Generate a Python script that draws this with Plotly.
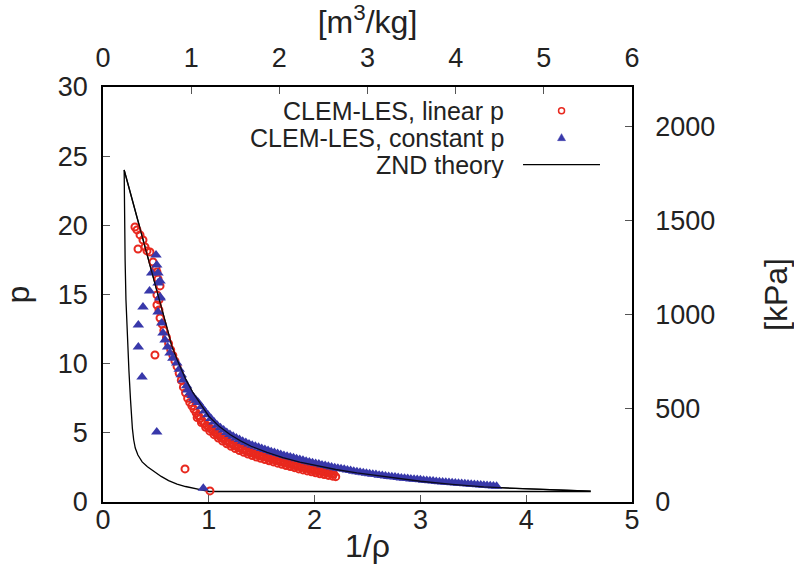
import plotly.graph_objects as go

# ---------------- data ----------------
# ZND theory path: initial-state line, shock branch up to the vN spike, then the expansion
znd_x = [4.61, 1.00, 0.93, 0.85, 0.78, 0.70, 0.62, 0.55, 0.48, 0.42, 0.37, 0.33, 0.305, 0.29,
         0.278, 0.268, 0.26, 0.245, 0.23, 0.217, 0.209, 0.204, 0.20,
         0.36, 0.51, 0.56, 0.60, 0.65, 0.70, 0.78, 0.85, 0.92, 1.00, 1.10, 1.20, 1.30, 1.40,
         1.55, 1.70, 1.86, 2.00, 2.20, 2.40, 2.70, 3.00, 3.30, 3.60, 3.90, 4.20, 4.61]
znd_p = [0.76, 0.76, 0.87, 1.00, 1.12, 1.30, 1.55, 1.85, 2.20, 2.55, 2.90, 3.40, 3.90, 4.50,
         5.30, 6.30, 7.40, 9.50, 12.0, 14.6, 17.5, 20.4, 24.0,
         19.5, 15.3, 13.9, 12.6, 11.3, 10.3, 8.9, 7.9, 7.1, 6.2, 5.45, 4.88, 4.42, 4.03,
         3.58, 3.20, 2.88, 2.64, 2.35, 2.10, 1.78, 1.50, 1.28, 1.10, 0.98, 0.89, 0.79]

# CLEM-LES, linear p (red open circles)
lin_x = [0.302, 0.321, 0.350, 0.378, 0.331, 0.397, 0.416, 0.444, 0.473, 0.501, 0.510, 0.520,
         0.539, 0.510, 0.529, 0.510, 0.529, 0.539, 0.558, 0.575,
         0.491, 0.775, 1.011,
         0.60, 0.62, 0.64, 0.66, 0.68, 0.70, 0.72, 0.74, 0.76, 0.78, 0.80, 0.82, 0.84, 0.86,
         0.88, 0.90, 0.92, 0.94, 0.96, 0.98, 1.00, 1.02, 1.04, 1.06, 1.08, 1.10, 1.12, 1.14,
         1.16, 1.18, 1.20, 1.22, 1.24, 1.26, 1.28, 1.30, 1.32, 1.34, 1.36, 1.38, 1.40, 1.42,
         1.44, 1.46, 1.48, 1.50, 1.52, 1.54, 1.56, 1.58, 1.60, 1.62, 1.64, 1.66, 1.68, 1.70,
         1.72, 1.74, 1.76, 1.78, 1.80, 1.82, 1.84, 1.86, 1.88, 1.90, 1.92, 1.94, 1.96, 1.98,
         2.00, 2.02, 2.04, 2.06, 2.08, 2.10, 2.12, 2.14, 2.16, 2.18,
         0.89, 0.93, 0.97, 1.01, 1.05, 1.09, 1.13, 1.17, 1.21, 1.25, 1.29, 1.33, 1.37, 1.41,
         1.45, 1.49, 1.53, 1.57, 1.61, 1.65, 1.69, 1.73, 1.77, 1.81, 1.85, 1.89, 1.93, 1.97,
         2.01, 2.05, 2.09, 2.13, 2.17, 2.20]
lin_p = [19.88, 19.67, 19.31, 18.94, 18.29, 18.44, 18.15, 18.08, 17.35, 16.92, 16.63, 16.12,
         15.62, 14.97, 14.61, 14.24, 13.88, 13.30, 12.87, 12.4,
         10.63, 2.39, 0.80,
         11.9, 11.45, 11.0, 10.6, 10.2, 9.8, 9.3, 8.8, 8.3, 7.9, 7.5, 7.2, 6.95, 6.7,
         6.45, 6.25, 6.05, 5.85, 5.67, 5.53, 5.40, 5.27, 5.14, 5.01, 4.89, 4.77, 4.66, 4.55,
         4.45, 4.35, 4.26, 4.18, 4.10, 4.02, 3.95, 3.88, 3.81, 3.75, 3.69, 3.63, 3.57, 3.52,
         3.47, 3.42, 3.37, 3.33, 3.29, 3.24, 3.20, 3.15, 3.11, 3.07, 3.02, 2.98, 2.93, 2.88,
         2.84, 2.80, 2.76, 2.72, 2.68, 2.64, 2.60, 2.56, 2.53, 2.49, 2.45, 2.42, 2.38, 2.35,
         2.31, 2.28, 2.25, 2.21, 2.18, 2.15, 2.12, 2.09, 2.06, 2.03,
         6.1, 5.75, 5.4, 5.12, 4.87, 4.63, 4.41, 4.21, 4.03, 3.87, 3.72, 3.59, 3.47, 3.36,
         3.25, 3.16, 3.07, 2.98, 2.90, 2.81, 2.72, 2.64, 2.56, 2.48, 2.39, 2.32, 2.25, 2.18,
         2.11, 2.04, 1.98, 1.92, 1.87, 1.83]

# CLEM-LES, constant p (blue triangles)
const_x = [0.501, 0.508, 0.460, 0.520, 0.539, 0.440, 0.539, 0.378, 0.334, 0.334, 0.369, 0.508,
           0.948,
           0.520, 0.540, 0.520, 0.555, 0.567, 0.586, 0.61, 0.633, 0.66, 0.697, 0.72, 0.74,
           0.756, 0.79, 0.80, 0.822, 0.84, 0.86, 0.88,
           0.90, 0.93, 0.96, 0.99, 1.02, 1.05, 1.08, 1.11, 1.14, 1.17, 1.20, 1.23, 1.26, 1.29,
           1.32, 1.35, 1.38, 1.41, 1.44, 1.47, 1.50, 1.53, 1.56, 1.59, 1.62, 1.65, 1.68, 1.71,
           1.74, 1.77, 1.80, 1.83, 1.86, 1.89, 1.92, 1.95, 1.98, 2.01, 2.04, 2.07, 2.10, 2.13,
           2.16, 2.19, 2.22, 2.25, 2.28, 2.31, 2.34, 2.37, 2.40, 2.43, 2.46, 2.49, 2.52, 2.55,
           2.58, 2.61, 2.64, 2.67, 2.70, 2.73, 2.76, 2.79, 2.82, 2.85, 2.88, 2.91, 2.94, 2.97,
           3.00, 3.03, 3.06, 3.09, 3.12, 3.15, 3.18, 3.21, 3.24, 3.27, 3.30, 3.33, 3.36, 3.39,
           3.42, 3.45, 3.48, 3.51, 3.54, 3.57, 3.60, 3.63, 3.66, 3.69, 3.72]
const_p = [17.86, 17.14, 16.56, 16.56, 15.98, 15.26, 14.75, 14.10, 12.80, 11.21, 9.04, 5.06,
           1.00,
           15.84, 14.82, 13.74, 12.94, 12.22, 11.71, 11.2, 10.77, 10.4, 10.05, 9.6, 9.2,
           8.82, 8.4, 8.1, 7.88, 7.7, 7.5, 7.35,
           7.20, 6.88, 6.58, 6.30, 6.03, 5.78, 5.55, 5.36, 5.20, 5.03, 4.88, 4.75, 4.63, 4.51,
           4.40, 4.30, 4.20, 4.11, 4.03, 3.95, 3.87, 3.79, 3.72, 3.64, 3.57, 3.50, 3.43, 3.37,
           3.31, 3.25, 3.19, 3.13, 3.07, 3.01, 2.95, 2.90, 2.84, 2.79, 2.74, 2.68, 2.63, 2.58,
           2.53, 2.48, 2.44, 2.40, 2.36, 2.32, 2.27, 2.23, 2.19, 2.15, 2.12, 2.08, 2.05, 2.01,
           1.98, 1.94, 1.91, 1.88, 1.85, 1.82, 1.80, 1.77, 1.74, 1.72, 1.69, 1.67, 1.65, 1.62,
           1.60, 1.58, 1.55, 1.53, 1.51, 1.49, 1.47, 1.45, 1.43, 1.41, 1.39, 1.37, 1.35, 1.33,
           1.32, 1.30, 1.28, 1.26, 1.24, 1.23, 1.21, 1.19, 1.17, 1.15, 1.13]

x_ticks = [0, 1, 2, 3, 4, 5]
y_ticks = [0, 5, 10, 15, 20, 25, 30]
x2_ticks = [0, 1, 2, 3, 4, 5, 6]
y2_ticks = [0, 500, 1000, 1500, 2000]
legend_names = ["CLEM-LES, linear p", "CLEM-LES, constant p", "ZND theory"]

RED = "#e8281e"
BLUE = "#3838aa"
FONT = "Liberation Sans"
FS = 27
LFS = 25

fig = go.Figure()
fig.add_trace(go.Scatter(x=znd_x, y=znd_p, mode="lines", name=legend_names[2],
                         line=dict(color="black", width=1.3), showlegend=False))
fig.add_trace(go.Scatter(x=lin_x, y=lin_p, mode="markers", name=legend_names[0],
                         marker=dict(symbol="circle-open", size=7, color=RED,
                                     line=dict(color=RED, width=2)), showlegend=False))
fig.add_trace(go.Scatter(x=const_x, y=const_p, mode="markers", name=legend_names[1],
                         marker=dict(symbol="triangle-up", size=10, color=BLUE,
                                     line=dict(width=0)), showlegend=False))
# expansion part of the ZND curve again, so it stays visible through the markers
fig.add_trace(go.Scatter(x=znd_x[22:], y=znd_p[22:], mode="lines", name=legend_names[2],
                         line=dict(color="black", width=1.3), showlegend=False, opacity=0.8))

axis_common = dict(showgrid=False, zeroline=False, showline=True, linecolor="black",
                   linewidth=1.5, ticks="inside", ticklen=7, tickcolor="#555555",
                   automargin=False,
                   tickfont=dict(family=FONT, size=FS, color="#222222"))

fig.update_layout(
    width=794, height=588,
    margin=dict(l=103, r=162, t=87, b=86),
    paper_bgcolor="white", plot_bgcolor="white",
    font=dict(family=FONT, size=FS, color="#222222"),
    showlegend=False,
    xaxis=dict(range=[0, 5], tickvals=x_ticks, ticklabelstandoff=-7,
               title=dict(text="1/ρ", standoff=0), **axis_common),
    yaxis=dict(range=[0, 30], tickvals=y_ticks, ticklabelstandoff=8,
               title=dict(text="p", standoff=37), **axis_common),
    xaxis2=dict(range=[0, 6], tickvals=x2_ticks, overlaying="x", side="top", anchor="y",
                ticklabelstandoff=7, title=dict(text="[m<sup>3</sup>/kg]", standoff=26),
                **axis_common),
    yaxis2=dict(range=[0, 2213], tickvals=y2_ticks, overlaying="y", side="right", anchor="x",
                ticklabelstandoff=16, title=dict(text="[kPa]", standoff=51), **axis_common),
)
# empty trace on the secondary axes so they render
fig.add_trace(go.Scatter(x=[None], y=[None], xaxis="x2", yaxis="y2", showlegend=False,
                         hoverinfo="skip"))

# gnuplot-style key: text first, then the sample on the right
rows = [0.943, 0.878, 0.813]
for name, yy in zip(legend_names, rows):
    fig.add_annotation(x=0.7618, y=yy, xref="paper", yref="paper", text=name,
                       showarrow=False, xanchor="right", yanchor="middle", height=26,
                       valign="middle",
                       font=dict(family=FONT, size=LFS, color="#222222"))
fig.add_shape(type="circle", xref="paper", yref="paper", xsizemode="pixel", ysizemode="pixel",
              xanchor=0.8668, yanchor=rows[0], x0=-3, x1=3, y0=-3, y1=3,
              line=dict(color=RED, width=1.5))
fig.add_shape(type="path", xref="paper", yref="paper", xsizemode="pixel", ysizemode="pixel",
              xanchor=0.8668, yanchor=rows[1], path="M -4,-3 L 4,-3 L 0,4 Z",
              fillcolor=BLUE, line=dict(color=BLUE, width=0.5))
fig.add_shape(type="line", xref="paper", yref="paper", x0=0.794, x1=0.9395, y0=rows[2],
              y1=rows[2], line=dict(color="black", width=1.3))

fig.write_html("out.html", config={"displayModeBar": False},
               post_script="document.body.style.margin='0';")
